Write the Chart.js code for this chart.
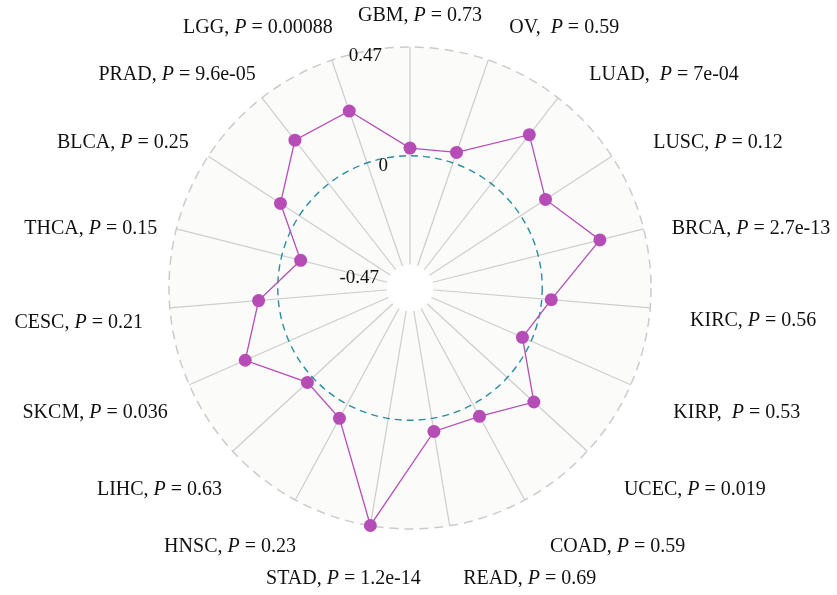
<!DOCTYPE html>
<html>
<head>
<meta charset="utf-8">
<script src="https://cdn.jsdelivr.net/npm/chart.js@4/dist/chart.umd.min.js"></script>
<style>
  html, body { margin: 0; padding: 0; background: #ffffff; }
  #wrap { width: 837px; height: 595px; }
</style>
</head>
<body>
<div id="wrap"><canvas id="radar" width="837" height="595"></canvas></div>
<script>
// Cancer types, clockwise from the top
const cancerTypes = ['GBM', 'OV', 'LUAD', 'LUSC', 'BRCA', 'KIRC', 'KIRP', 'UCEC', 'COAD', 'READ',
                     'STAD', 'HNSC', 'LIHC', 'SKCM', 'CESC', 'THCA', 'BLCA', 'PRAD', 'LGG'];
// Correlation coefficient per cancer type
const correlation = [0.033, 0.048, 0.268, 0.128, 0.275, 0.041, -0.041, 0.156, 0.059, 0.057,
                     0.469, 0.069, 0.031, 0.206, 0.085, -0.084, 0.097, 0.238, 0.237];
// P value text per cancer type
const pValues = ['0.73', '0.59', '7e-04', '0.12', '2.7e-13', '0.56', '0.53', '0.019', '0.59', '0.69',
                 '1.2e-14', '0.23', '0.63', '0.036', '0.21', '0.15', '0.25', '9.6e-05', '0.00088'];
// Names printed with a wider gap after the comma
const wideGap = ['OV', 'LUAD', 'KIRP'];
// Radial axis labels
const axisTicks = [-0.47, 0, 0.47];
const axisTickText = ['-0.47', '0', '0.47'];

// Layout: nudges of each category label from its anchor just outside the rim
const labelNudge = [[10, -3], [12, -6], [14, -1], [18, 2], [1, 7], [12, 11], [17, 17], [16, 20], [12, 22], [9, 25],
                    [55, 25], [14, 22], [10, 20], [4, 17], [1, 13], [8, 7], [4, 2], [11, -1], [10, -6]];
// Layout: placement of the axis value labels relative to their ring on the vertical spoke
const tickNudge = [[-31, 14], [-22, 10], [-28, 9]];

const AXIS_MIN = -0.47, AXIS_MAX = 0.47;
const HOLE_FRACTION = 0.0975;          // inner empty disc, as a share of the radius
const SCALE_MIN = (AXIS_MIN - HOLE_FRACTION * AXIS_MAX) / (1 - HOLE_FRACTION);

const FONT = '"Liberation Serif", "Times New Roman", serif';
const LINE_COLOR = '#b64db6';

const polarDecor = {
  id: 'polarDecor',
  beforeDraw(chart) {
    const s = chart.scales.r, ctx = chart.ctx;
    ctx.save();
    ctx.fillStyle = '#fbfbfa';
    ctx.beginPath();
    ctx.arc(s.xCenter, s.yCenter, s.getDistanceFromCenterForValue(AXIS_MAX), 0, Math.PI * 2);
    ctx.fill();
    ctx.restore();
  },
  beforeDatasetsDraw(chart) {
    const s = chart.scales.r, ctx = chart.ctx;
    const cx = s.xCenter, cy = s.yCenter;
    ctx.save();
    // empty centre
    ctx.fillStyle = '#ffffff';
    ctx.beginPath();
    ctx.arc(cx, cy, s.getDistanceFromCenterForValue(AXIS_MIN), 0, Math.PI * 2);
    ctx.fill();
    // outer rim
    ctx.strokeStyle = '#cbcbcb';
    ctx.lineWidth = 1.5;
    ctx.setLineDash([9, 6]);
    ctx.beginPath();
    ctx.arc(cx, cy, s.getDistanceFromCenterForValue(AXIS_MAX), 0, Math.PI * 2);
    ctx.stroke();
    // zero reference circle
    ctx.strokeStyle = '#2a8d9b';
    ctx.lineWidth = 1.4;
    ctx.setLineDash([7, 5]);
    ctx.beginPath();
    ctx.arc(cx, cy, s.getDistanceFromCenterForValue(0), 0, Math.PI * 2);
    ctx.stroke();
    ctx.setLineDash([]);

    // axis values, left of the vertical spoke
    ctx.fillStyle = '#111111';
    ctx.font = '19px ' + FONT;
    ctx.textAlign = 'right';
    ctx.textBaseline = 'middle';
    axisTicks.forEach((v, k) => {
      const d = s.getDistanceFromCenterForValue(v);
      ctx.fillText(axisTickText[k], cx + tickNudge[k][0], cy - d + tickNudge[k][1]);
    });

    // category labels with italic P
    const n = cancerTypes.length;
    const reg = '20px ' + FONT, ita = 'italic 20px ' + FONT;
    cancerTypes.forEach((name, i) => {
      const a = s.getPointPosition(i, s.drawingArea + 28);
      const x = a.x + labelNudge[i][0], y = a.y + labelNudge[i][1];
      const head = name + (wideGap.includes(name) ? ',  ' : ', ');
      const tail = ' = ' + pValues[i];
      ctx.font = reg;
      const w1 = ctx.measureText(head).width, w3 = ctx.measureText(tail).width;
      ctx.font = ita;
      const w2 = ctx.measureText('P').width;
      const w = w1 + w2 + w3;
      let x0;
      if (i === 0) x0 = x - w / 2;
      else if (i < n / 2) x0 = x;
      else x0 = x - w;
      ctx.textAlign = 'left';
      ctx.textBaseline = 'middle';
      ctx.fillStyle = '#111111';
      ctx.font = reg;
      ctx.fillText(head, x0, y);
      ctx.font = ita;
      ctx.fillText('P', x0 + w1, y);
      ctx.font = reg;
      ctx.fillText(tail, x0 + w1 + w2, y);
    });
    ctx.restore();
  }
};

new Chart(document.getElementById('radar'), {
  type: 'radar',
  data: {
    labels: cancerTypes,
    datasets: [{
      data: correlation,
      borderColor: LINE_COLOR,
      backgroundColor: 'rgba(0,0,0,0)',
      borderWidth: 1.3,
      fill: false,
      pointRadius: 6.5,
      pointHoverRadius: 6.5,
      pointBackgroundColor: LINE_COLOR,
      pointBorderColor: LINE_COLOR,
      pointBorderWidth: 0,
      tension: 0,
      clip: false
    }]
  },
  options: {
    responsive: false,
    animation: false,
    devicePixelRatio: 1,
    layout: { padding: { left: 169, right: 186, top: 47, bottom: 65 } },
    plugins: { legend: { display: false }, tooltip: { enabled: false } },
    scales: {
      r: {
        min: SCALE_MIN,
        max: AXIS_MAX,
        startAngle: 0,
        ticks: { display: false },
        grid: { display: false },
        angleLines: { display: true, color: '#cdcdcd', lineWidth: 1.2 },
        pointLabels: { display: false }
      }
    }
  },
  plugins: [polarDecor]
});
</script>
</body>
</html>
